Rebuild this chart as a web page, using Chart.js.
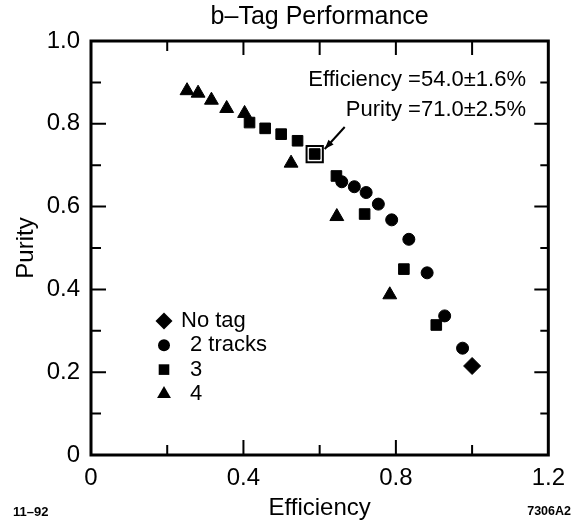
<!DOCTYPE html>
<html><head><meta charset="utf-8">
<script src="https://cdn.jsdelivr.net/npm/chart.js@4/dist/chart.umd.min.js"></script>
<style>html,body{margin:0;padding:0;background:#fff;}#wrap{width:574px;height:522px;}</style>
</head><body><div id="wrap"><canvas id="c" width="574" height="522"></canvas></div>
<script>
// ---- data ----
const seriesLabels = ['No tag', '2 tracks', '3', '4'];
const noTagEff = [1.0];
const noTagPur = [0.215];
const twoTrackEff = [0.658, 0.691, 0.722, 0.754, 0.789, 0.834, 0.882, 0.928, 0.975];
const twoTrackPur = [0.660, 0.648, 0.634, 0.606, 0.568, 0.521, 0.440, 0.336, 0.258];
const threeEff = [0.416, 0.457, 0.499, 0.542, 0.587, 0.644, 0.718, 0.821, 0.906];
const threePur = [0.803, 0.789, 0.775, 0.759, 0.727, 0.674, 0.582, 0.449, 0.314];
const fourEff = [0.252, 0.281, 0.316, 0.356, 0.403, 0.525, 0.645, 0.784];
const fourPur = [0.880, 0.874, 0.857, 0.837, 0.825, 0.705, 0.576, 0.387];
const highlightEff = [0.587];
const highlightPur = [0.727];
const xTickLabels = [0, 0.4, 0.8, 1.2];
const xTickMarks = [0.2, 0.4, 0.6, 0.8, 1.0];
const yTickLabels = [0, 0.2, 0.4, 0.6, 0.8, 1.0];
const yMinorTicks = [0.1, 0.3, 0.5, 0.7, 0.9];
const chartTitle = 'b\u2013Tag Performance';
const xTitle = 'Efficiency';
const yTitle = 'Purity';
const annotationLines = ['Efficiency =54.0\u00B11.6%', 'Purity =71.0\u00B12.5%'];
const cornerLeft = '11\u201392';
const cornerRight = '7306A2';

const pts = (xs, ys) => xs.map((x, i) => ({x: x, y: ys[i]}));
const FONT = "'Liberation Sans', Arial, Helvetica, sans-serif";

const styles = [
  {pointStyle: 'rectRot', radius: 8.5},
  {pointStyle: 'circle', radius: 6},
  {pointStyle: 'rect', radius: 7.5},
  {pointStyle: 'triangle', radius: 8}
];
const seriesData = [pts(noTagEff, noTagPur), pts(twoTrackEff, twoTrackPur), pts(threeEff, threePur), pts(fourEff, fourPur)];

const datasets = seriesData.map((d, i) => ({
  label: seriesLabels[i], data: d,
  pointStyle: styles[i].pointStyle, pointRadius: styles[i].radius,
  backgroundColor: '#000', borderColor: '#000', borderWidth: 1, showLine: false
}));
datasets.push({
  label: 'selected', data: pts(highlightEff, highlightPur),
  pointStyle: 'rect', pointRadius: 11.5, backgroundColor: 'rgba(0,0,0,0)',
  borderColor: '#000', borderWidth: 2, showLine: false
});

function drawMarker(ctx, style, x, y, r) {
  ctx.beginPath();
  if (style === 'circle') { ctx.arc(x, y, r, 0, Math.PI * 2); }
  else if (style === 'rect') { const s = r * Math.SQRT1_2; ctx.rect(x - s, y - s, 2 * s, 2 * s); }
  else if (style === 'rectRot') { ctx.moveTo(x, y - r); ctx.lineTo(x + r, y); ctx.lineTo(x, y + r); ctx.lineTo(x - r, y); ctx.closePath(); }
  else if (style === 'triangle') {
    for (let k = 0; k < 3; k++) { const a = k * 2 * Math.PI / 3; const px = x + Math.sin(a) * r, py = y - Math.cos(a) * r; k ? ctx.lineTo(px, py) : ctx.moveTo(px, py); }
    ctx.closePath();
  }
  ctx.fill();
}

const decor = {
  id: 'decor',
  afterDatasetsDraw(chart) {
    const ctx = chart.ctx, a = chart.chartArea, xs = chart.scales.x, ys = chart.scales.y;
    ctx.save();
    ctx.strokeStyle = '#000'; ctx.fillStyle = '#000';
    // frame
    ctx.lineWidth = 3;
    ctx.strokeRect(a.left, a.top, a.right - a.left, a.bottom - a.top);
    // ticks
    ctx.lineWidth = 2;
    ctx.beginPath();
    const botLen = [10, 15, 10, 15, 10], topLen = [10, 14, 14, 14, 14];
    xTickMarks.forEach((v, i) => {
      const px = xs.getPixelForValue(v);
      ctx.moveTo(px, a.bottom); ctx.lineTo(px, a.bottom - botLen[i]);
      ctx.moveTo(px, a.top); ctx.lineTo(px, a.top + topLen[i]);
    });
    yTickLabels.forEach(v => {
      if (v <= 0 || v >= 1) return;
      const py = ys.getPixelForValue(v);
      ctx.moveTo(a.left, py); ctx.lineTo(a.left + 15, py);
      ctx.moveTo(a.right, py); ctx.lineTo(a.right - 14, py);
    });
    yMinorTicks.forEach(v => {
      const py = ys.getPixelForValue(v);
      ctx.moveTo(a.left, py); ctx.lineTo(a.left + 10, py);
      ctx.moveTo(a.right, py); ctx.lineTo(a.right - 8, py);
    });
    ctx.stroke();

    // title & axis titles
    const cx = (a.left + a.right) / 2, cy = (a.top + a.bottom) / 2;
    ctx.textAlign = 'center'; ctx.textBaseline = 'middle';
    ctx.font = '25px ' + FONT;
    ctx.fillText(chartTitle, cx, 17);
    ctx.font = '24px ' + FONT;
    ctx.fillText(xTitle, cx, 508);
    ctx.save();
    ctx.translate(26, cy); ctx.rotate(-Math.PI / 2);
    ctx.fillText(yTitle, 0, 0);
    ctx.restore();
    ctx.font = 'bold 13px ' + FONT;
    ctx.textAlign = 'left'; ctx.fillText(cornerLeft, 13, 512);
    ctx.font = 'bold 12.5px ' + FONT;
    ctx.textAlign = 'right'; ctx.fillText(cornerRight, 571, 512);

    // legend
    ctx.font = '22px ' + FONT;
    ctx.textAlign = 'left';
    seriesLabels.forEach((lab, i) => {
      const ly = 321 + i * 24.3;
      drawMarker(ctx, styles[i].pointStyle, 164, ly, styles[i].radius);
      ctx.fillText(lab, i === 0 ? 181 : 190, ly);
    });

    // annotation
    ctx.font = '22px ' + FONT;
    ctx.textAlign = 'right';
    ctx.fillText(annotationLines[0], 526, 80);
    ctx.fillText(annotationLines[1], 526, 110);
    // arrow to highlighted point
    const hx = xs.getPixelForValue(highlightEff[0]), hy = ys.getPixelForValue(highlightPur[0]);
    const tx = hx + 10, ty = hy - 5, sx = hx + 30, sy = hy - 27;
    ctx.lineWidth = 2;
    ctx.beginPath(); ctx.moveTo(sx, sy); ctx.lineTo(tx, ty); ctx.stroke();
    const ang = Math.atan2(ty - sy, tx - sx);
    ctx.beginPath();
    ctx.moveTo(tx, ty);
    ctx.lineTo(tx - 10 * Math.cos(ang - 0.35), ty - 10 * Math.sin(ang - 0.35));
    ctx.lineTo(tx - 10 * Math.cos(ang + 0.35), ty - 10 * Math.sin(ang + 0.35));
    ctx.closePath(); ctx.fill();
    ctx.restore();
  }
};

const fmt = v => (Math.abs(v) < 1e-9 ? '0' : Number(v).toFixed(1));

new Chart(document.getElementById('c'), {
  type: 'scatter',
  data: {datasets: datasets},
  options: {
    responsive: false, animation: false, devicePixelRatio: 1,
    layout: {padding: {left: 0, right: 24, top: 41, bottom: 0}},
    plugins: {legend: {display: false}, tooltip: {enabled: false}, title: {display: false}},
    scales: {
      x: {
        type: 'linear', min: 0, max: 1.2,
        afterBuildTicks: s => { s.ticks = xTickLabels.map(v => ({value: v})); },
        afterFit: s => { s.height = 67; },
        grid: {display: false, drawTicks: false}, border: {display: false},
        ticks: {callback: v => fmt(v), color: '#000', font: {family: FONT, size: 24}, padding: 9, maxRotation: 0, autoSkip: false}
      },
      y: {
        type: 'linear', min: 0, max: 1,
        afterBuildTicks: s => { s.ticks = yTickLabels.map(v => ({value: v})); },
        afterFit: s => { s.width = 91; },
        grid: {display: false, drawTicks: false}, border: {display: false},
        ticks: {callback: v => fmt(v), color: '#000', font: {family: FONT, size: 24}, padding: 11, autoSkip: false}
      }
    }
  },
  plugins: [decor]
});
</script>
</body></html>
